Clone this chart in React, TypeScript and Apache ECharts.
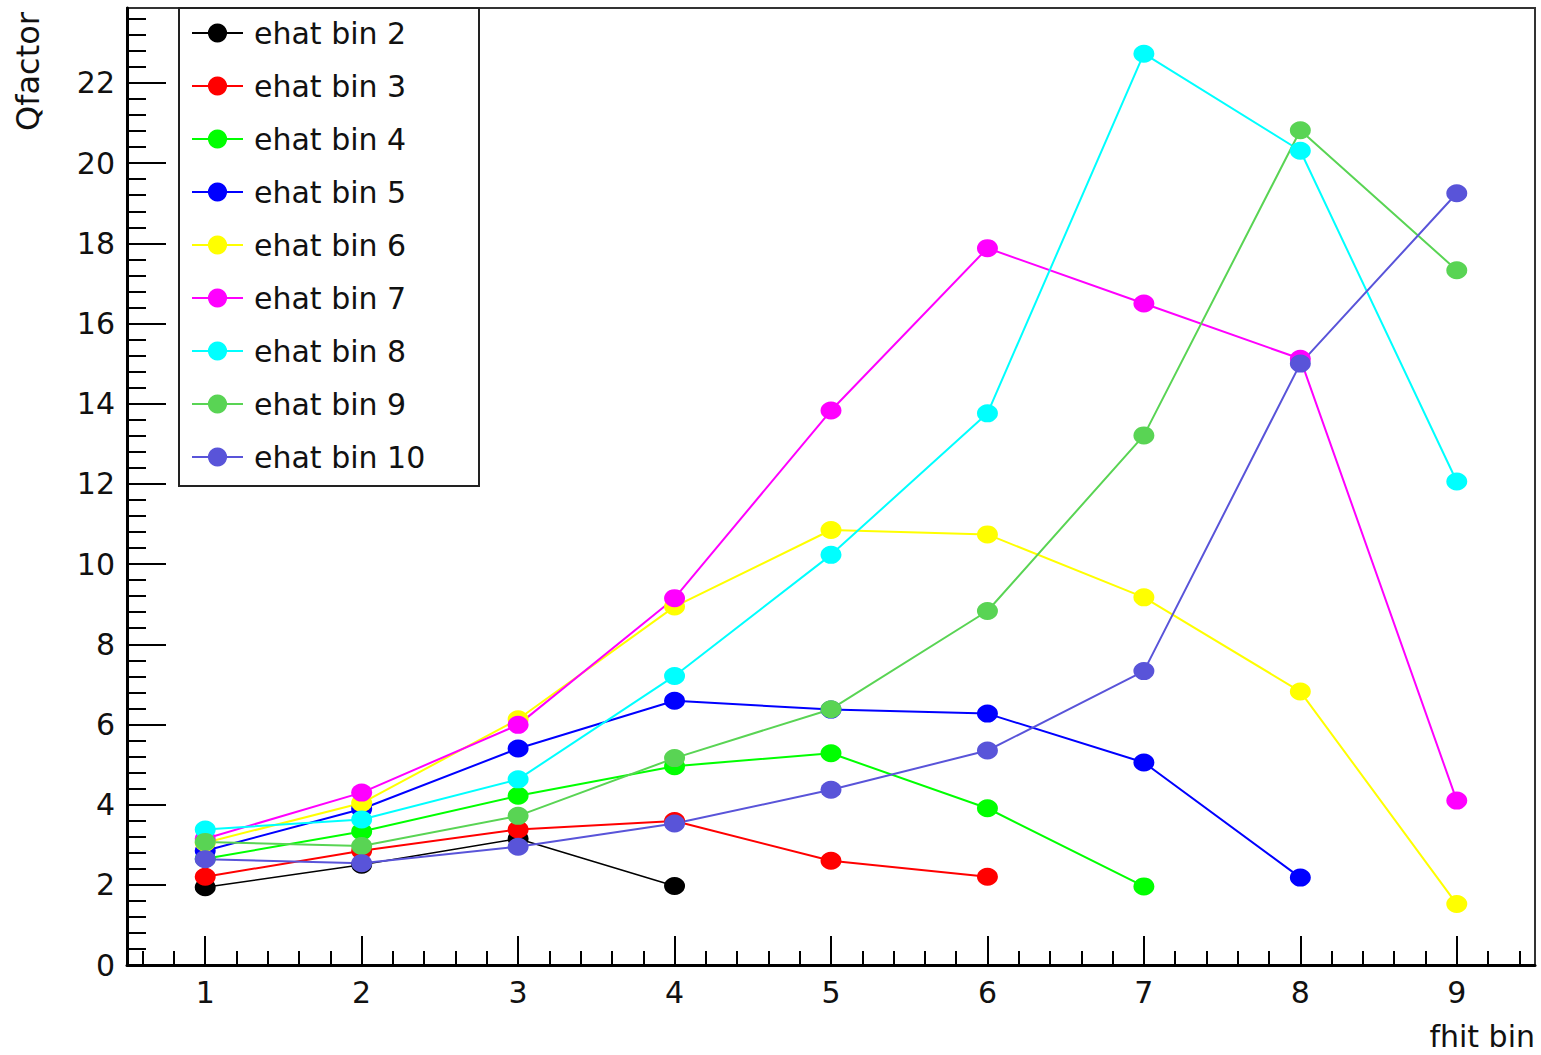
import React, { useEffect, useRef } from "react";
import * as echarts from "echarts";

const seriesNames = [
  "ehat bin 2",
  "ehat bin 3",
  "ehat bin 4",
  "ehat bin 5",
  "ehat bin 6",
  "ehat bin 7",
  "ehat bin 8",
  "ehat bin 9",
  "ehat bin 10",
];
const seriesColors = [
  "#000000",
  "#ff0000",
  "#00ff00",
  "#0000ff",
  "#ffff00",
  "#ff00ff",
  "#00ffff",
  "#59d454",
  "#5954d9",
];

const fhitBins = [1, 2, 3, 4, 5, 6, 7, 8, 9];

const bin2 = [1.94, 2.5, 3.15, 1.97];
const bin3 = [2.2, 2.85, 3.38, 3.59, 2.6, 2.2];
const bin4 = [2.65, 3.33, 4.22, 4.96, 5.28, 3.91, 1.96];
const bin5 = [2.85, 3.89, 5.4, 6.59, 6.37, 6.27, 5.05, 2.18];
const bin6 = [3.05, 4.04, 6.13, 8.94, 10.85, 10.74, 9.17, 6.82, 1.52];
const bin7 = [3.15, 4.3, 5.99, 9.15, 13.83, 17.88, 16.5, 15.12, 4.1];
const bin8 = [3.38, 3.63, 4.63, 7.21, 10.23, 13.76, 22.73, 20.31, 12.06];
const bin9 = [3.07, 2.97, 3.72, 5.16, 6.38, 8.83, 13.21, 20.82, 17.33];
const bin10 = [2.64, 2.54, 2.95, 3.53, 4.37, 5.35, 7.33, 15.0, 19.25];

const allValues = [bin2, bin3, bin4, bin5, bin6, bin7, bin8, bin9, bin10];

const xMajorTicks = [1, 2, 3, 4, 5, 6, 7, 8, 9];
const yMajorTicks = [0, 2, 4, 6, 8, 10, 12, 14, 16, 18, 20, 22];

const X_MIN = 0.5;
const X_MAX = 9.5;
const Y_MIN = 0;
const Y_MAX = 23.87;

function minorValues(start: number, end: number, step: number, majorStep: number) {
  const out: number[] = [];
  const n = Math.round((end - start) / step);
  for (let i = 0; i <= n; i++) {
    const v = Math.round((start + i * step) * 1000) / 1000;
    const r = v / majorStep;
    if (Math.abs(r - Math.round(r)) > 1e-6) out.push(v);
  }
  return out;
}

const xMinorTicks = minorValues(0.6, 9.4, 0.2, 1);
const yMinorTicks = minorValues(0.4, 23.6, 0.4, 2);

const FONT = "DejaVu Sans";

export default function App() {
  const ref = useRef<HTMLDivElement>(null);

  useEffect(() => {
    if (!ref.current) return;
    const chart = echarts.init(ref.current, undefined, { renderer: "svg" });

    const series = allValues.map((vals, i) => ({
      name: seriesNames[i],
      type: "line",
      xAxisIndex: 0,
      yAxisIndex: 0,
      data: vals.map((v, j) => [fhitBins[j], v]),
      symbol: "circle",
      symbolSize: [21, 18],
      showSymbol: true,
      itemStyle: { color: seriesColors[i] },
      lineStyle: { color: seriesColors[i], width: i === 0 ? 1.6 : 2 },
      emphasis: { disabled: true },
      z: 3,
    }));

    const option: any = {
      animation: false,
      backgroundColor: "#ffffff",
      grid: {
        left: 127,
        top: 8,
        width: 1408,
        height: 957,
        show: true,
        borderColor: "#333333",
        borderWidth: 2,
        backgroundColor: "transparent",
      },
      xAxis: [
        {
          type: "value",
          min: X_MIN,
          max: X_MAX,
          position: "bottom",
          axisLine: { show: true, onZero: false, lineStyle: { color: "#000", width: 3 } },
          axisTick: {
            show: true,
            inside: true,
            length: 29,
            customValues: xMajorTicks,
            lineStyle: { color: "#000", width: 2 },
          },
          axisLabel: {
            show: true,
            customValues: xMajorTicks,
            margin: 27,
            verticalAlign: "middle",
            fontFamily: FONT,
            fontSize: 30,
            color: "#111",
          },
          splitLine: { show: false },
        },
        {
          type: "value",
          min: X_MIN,
          max: X_MAX,
          position: "bottom",
          axisLine: { show: false, onZero: false },
          axisTick: {
            show: true,
            inside: true,
            length: 14,
            customValues: xMinorTicks,
            lineStyle: { color: "#000", width: 2 },
          },
          axisLabel: { show: false },
          splitLine: { show: false },
        },
      ],
      yAxis: [
        {
          type: "value",
          min: Y_MIN,
          max: Y_MAX,
          position: "left",
          axisLine: { show: true, onZero: false, lineStyle: { color: "#000", width: 3 } },
          axisTick: {
            show: true,
            inside: true,
            length: 39,
            customValues: yMajorTicks,
            lineStyle: { color: "#000", width: 2 },
          },
          axisLabel: {
            show: true,
            customValues: yMajorTicks,
            margin: 12,
            fontFamily: FONT,
            fontSize: 30,
            color: "#111",
          },
          splitLine: { show: false },
        },
        {
          type: "value",
          min: Y_MIN,
          max: Y_MAX,
          position: "left",
          axisLine: { show: false, onZero: false },
          axisTick: {
            show: true,
            inside: true,
            length: 19,
            customValues: yMinorTicks,
            lineStyle: { color: "#000", width: 2 },
          },
          axisLabel: { show: false },
          splitLine: { show: false },
        },
      ],
      legend: {
        show: true,
        orient: "vertical",
        left: 179,
        top: 8,
        padding: [10, 12, 13, 12],
        itemWidth: 51,
        itemHeight: 24,
        itemGap: 23,
        selectedMode: false,
        data: seriesNames,
        textStyle: {
          fontFamily: FONT,
          fontSize: 30,
          lineHeight: 30,
          color: "#111",
          padding: [0, 0, 0, 6],
        },
      },
      graphic: [
        {
          type: "rect",
          shape: { x: 179, y: 8, width: 300, height: 478 },
          style: { fill: "transparent", stroke: "#222", lineWidth: 2 },
          z: 10,
          silent: true,
        },
        {
          type: "text",
          x: 28,
          y: 12,
          rotation: Math.PI / 2,
          style: {
            text: "Qfactor",
            fontFamily: FONT,
            fontSize: 32,
            fill: "#111",
            align: "right",
            verticalAlign: "middle",
          },
          silent: true,
        },
        {
          type: "text",
          x: 1535,
          y: 1036,
          style: {
            text: "fhit bin",
            fontFamily: FONT,
            fontSize: 30,
            fill: "#111",
            align: "right",
            verticalAlign: "middle",
          },
          silent: true,
        },
      ],
      series,
    };

    chart.setOption(option);
    return () => {
      chart.dispose();
    };
  }, []);

  return (
    <div
      ref={ref}
      style={{
        position: "absolute",
        left: 0,
        top: 0,
        width: 1541,
        height: 1055,
        background: "#fff",
      }}
    />
  );
}
